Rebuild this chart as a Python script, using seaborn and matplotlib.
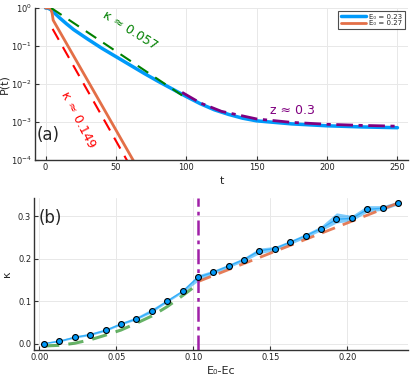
import matplotlib
matplotlib.use('Agg')
import matplotlib.pyplot as plt
import numpy as np
import seaborn as sns

# ---- panel (a): survival probability P(t) ----
t_blue = [0, 2, 4, 6, 10, 15, 20, 30, 40, 50, 60, 70, 80, 90, 100, 110, 120, 130, 140, 150, 175, 200, 225, 250]
logP_blue = [0.0, -0.01, -0.05, -0.12, -0.26, -0.42, -0.57, -0.82, -1.06, -1.28, -1.50, -1.72, -1.93,
             -2.13, -2.33, -2.52, -2.68, -2.80, -2.90, -2.97, -3.05, -3.10, -3.13, -3.15]

t_orange = [0, 3.5, 4.7, 5.4, 31.8, 66]
logP_orange = [0.0, 0.0, -0.14, -0.32, -2.03, -4.25]

t_green = [4, 97]          # kappa ~ 0.057 fit
logP_green = [0.0, -2.30]
t_red = [5, 60]            # kappa ~ 0.149 fit
logP_red = [-0.55, -4.15]
t_purple = [97, 110, 125, 150, 175, 200, 225, 250]   # z ~ 0.3 fit
logP_purple = [-2.22, -2.50, -2.72, -2.92, -3.01, -3.06, -3.09, -3.11]

legend_labels = ['E₀ = 0.23', 'E₀ = 0.27']

# ---- panel (b): kappa vs E0-Ec ----
dE = [0.003, 0.013, 0.023, 0.033, 0.043, 0.053, 0.063, 0.073, 0.083, 0.093, 0.103, 0.113,
      0.123, 0.133, 0.143, 0.153, 0.163, 0.173, 0.183, 0.193, 0.203, 0.213, 0.223, 0.233]
kappa = [0.000, 0.0055, 0.015, 0.021, 0.031, 0.046, 0.058, 0.076, 0.100, 0.123, 0.156, 0.168,
         0.183, 0.198, 0.219, 0.224, 0.239, 0.254, 0.271, 0.293, 0.295, 0.316, 0.319, 0.331]
kappa_lo = [0.000, 0.004, 0.013, 0.019, 0.029, 0.044, 0.056, 0.073, 0.097, 0.120, 0.147, 0.164,
            0.179, 0.194, 0.212, 0.219, 0.234, 0.249, 0.266, 0.284, 0.289, 0.310, 0.314, 0.327]
kappa_hi = [0.003, 0.009, 0.018, 0.025, 0.035, 0.050, 0.063, 0.082, 0.104, 0.127, 0.162, 0.173,
            0.187, 0.203, 0.225, 0.229, 0.243, 0.259, 0.277, 0.308, 0.302, 0.325, 0.325, 0.335]

dE_green = [0.003, 0.013, 0.023, 0.033, 0.043, 0.053, 0.063, 0.073, 0.083, 0.093, 0.100]
kappa_green = [-0.0055, -0.004, 0.001, 0.009, 0.020, 0.032, 0.048, 0.065, 0.087, 0.113, 0.132]
dE_orange = [0.103, 0.233]
kappa_orange = [0.146, 0.331]
dE_crit = 0.103

BLUE = '#009AFA'
ORANGE = '#E36F47'

sns.set_style('white')
plt.rcParams['font.family'] = ['DejaVu Sans']

fig = plt.figure(figsize=(4.15, 3.82), dpi=100)
ax1 = fig.add_axes([35 / 415, 1 - 160 / 382, 373 / 415, 152 / 382])
ax2 = fig.add_axes([34 / 415, 1 - 350 / 382, 374 / 415, 152 / 382])

# panel (a)
sns.lineplot(x=t_blue, y=10 ** np.array(logP_blue), color=BLUE, lw=2.5, label=legend_labels[0], ax=ax1)
sns.lineplot(x=t_orange, y=10 ** np.array(logP_orange), color=ORANGE, lw=2, label=legend_labels[1], ax=ax1)
ax1.plot(t_green, 10 ** np.array(logP_green), color='green', lw=1.5, ls=(0, (6, 4)))
ax1.plot(t_red, 10 ** np.array(logP_red), color='red', lw=1.5, ls=(0, (6, 4)))
ax1.plot(t_purple, 10 ** np.array(logP_purple), color='purple', lw=2, ls=(0, (6, 2, 1.5, 2)))
ax1.set_yscale('log')
ax1.set_ylim(1e-4, 1)
ax1.set_xlim(-7.5, 257.5)
ax1.set_xticks([0, 50, 100, 150, 200, 250])
ax1.set_xlabel('t', fontsize=8, labelpad=3)
ax1.set_ylabel('P(t)', fontsize=8)
ax1.yaxis.set_label_coords(-0.068, 0.5)
ax1.minorticks_off()

ax1.text(60, 10 ** -0.58, 'κ ≈ 0.057', color='green', fontsize=9, rotation=-32, ha='center', va='center')
ax1.text(23.4, 10 ** -2.95, 'κ ≈ 0.149', color='red', fontsize=9, rotation=-63, ha='center', va='center')
ax1.text(175.5, 10 ** -2.71, 'z ≈ 0.3', color='purple', fontsize=9, ha='center', va='center')
ax1.text(0.005, 0.164, '(a)', transform=ax1.transAxes, fontsize=12, va='center')

leg = ax1.legend(loc='upper right', fontsize=5, handlelength=3.6, frameon=True, fancybox=False,
                 borderaxespad=0.4, labelspacing=0.1, handletextpad=0.5, borderpad=0.4)
leg.get_frame().set_edgecolor('#222222')
leg.get_frame().set_linewidth(0.8)

# panel (b)
ax2.fill_between(dE, kappa_lo, kappa_hi, color=BLUE, alpha=0.5, lw=0)
sns.lineplot(x=dE, y=kappa, color=BLUE, lw=1, alpha=0.6, ax=ax2)
ax2.plot(dE_green, kappa_green, color='green', alpha=0.6, lw=2.2, ls=(0, (5, 3)))
ax2.plot(dE_orange, kappa_orange, color=ORANGE, alpha=0.9, lw=2, ls=(0, (5, 3)))
ax2.axvline(dE_crit, color='#A020A8', lw=1.8, ls=(0, (6, 2, 1.5, 2)))
sns.scatterplot(x=dE, y=kappa, color=BLUE, edgecolor='black', linewidth=0.8, s=18, zorder=5, ax=ax2)
ax2.set_xlim(-0.0035, 0.2395)
ax2.set_ylim(-0.015, 0.343)
ax2.set_xticks([0.0, 0.05, 0.10, 0.15, 0.20])
ax2.set_xticklabels(['0.00', '0.05', '0.10', '0.15', '0.20'])
ax2.set_yticks([0.0, 0.1, 0.2, 0.3])
ax2.set_xlabel('E₀-Ec', fontsize=8, labelpad=3)
ax2.set_ylabel('κ', fontsize=8)
ax2.yaxis.set_label_coords(-0.058, 0.5)
ax2.text(0.013, 0.87, '(b)', transform=ax2.transAxes, fontsize=12, va='center')

for ax in (ax1, ax2):
    ax.grid(True, color='#e8e8e8', lw=0.7)
    for side in ('top', 'right'):
        ax.spines[side].set_visible(False)
    for side in ('left', 'bottom'):
        ax.spines[side].set_color('#333333')
        ax.spines[side].set_linewidth(1)
    ax.tick_params(direction='in', length=3, width=0.8, labelsize=6, colors='#333333', pad=2,
                   left=True, bottom=True)
    ax.tick_params(labelcolor='#222222')

fig.savefig('out.png', dpi=100)
